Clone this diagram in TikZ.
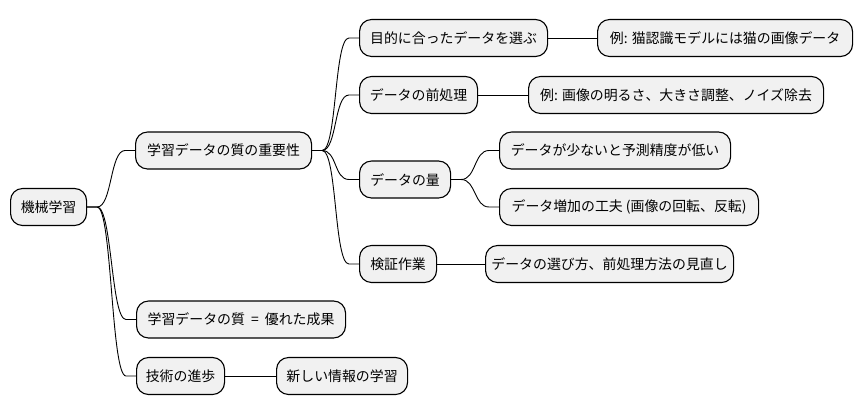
\documentclass[tikz,border=0pt]{standalone}
\usepackage{fontspec}
\setmainfont{Noto Sans CJK JP}
\usetikzlibrary{calc}
\definecolor{boxfill}{HTML}{F1F1F1}
\begin{document}
\begin{tikzpicture}[x=1pt,y=-1pt,
  mm/.style={draw=black, line width=1.1pt, fill=boxfill, rounded corners=12pt,
    anchor=west, minimum height=37pt, inner sep=0pt, font=\fontsize{13.9pt}{16pt}\selectfont},
  link/.style={line width=0.9pt, black}]
\useasboundingbox[fill=white] (0,0) rectangle (862,415);
\node[mm, minimum width=76pt]  (root) at (10,207) {機械学習};
\node[mm, minimum width=176pt] (a)    at (135,150.5) {学習データの質の重要性};
\node[mm, minimum width=188pt] (a1)   at (359,38) {目的に合ったデータを選ぶ};
\node[mm, minimum width=255pt] (a1a)  at (597,38) {例: 猫認識モデルには猫の画像データ};
\node[mm, minimum width=118pt] (a2)   at (359,95) {データの前処理};
\node[mm, minimum width=295pt] (a2a)  at (528,95) {例: 画像の明るさ、大きさ調整、ノイズ除去};
\node[mm, minimum width=91pt]  (a3)   at (359,179.5) {データの量};
\node[mm, minimum width=231pt] (a3a)  at (499,150.5) {データが少ないと予測精度が低い};
\node[mm, minimum width=259pt] (a3b)  at (499,207) {データ増加の工夫 (画像の回転、反転)};
\node[mm, minimum width=77pt]  (a4)   at (359,264) {検証作業};
\node[mm, minimum width=248pt] (a4a)  at (485,264) {データの選び方、前処理方法の見直し};
\node[mm, minimum width=209pt] (b)    at (136,319.5) {学習データの質\hspace{3pt} =\hspace{3pt} 優れた成果};
\node[mm, minimum width=88pt]  (c)    at (136,376) {技術の進歩};
\node[mm, minimum width=131pt] (c1)   at (276,376) {新しい情報の学習};
\foreach \p/\c in {root/a, root/b, root/c, a/a1, a/a2, a/a3, a/a4, a3/a3a, a3/a3b}{
  \draw[link] (\p.east) -- ++(10,0) .. controls +(15,0) and +(-15,0) .. ($(\c.west)+(-10,0)$) -- (\c.west);
}
\foreach \p/\c in {a1/a1a, a2/a2a, a4/a4a, c/c1}{
  \draw[link] (\p.east) -- (\c.west);
}
\end{tikzpicture}
\end{document}
